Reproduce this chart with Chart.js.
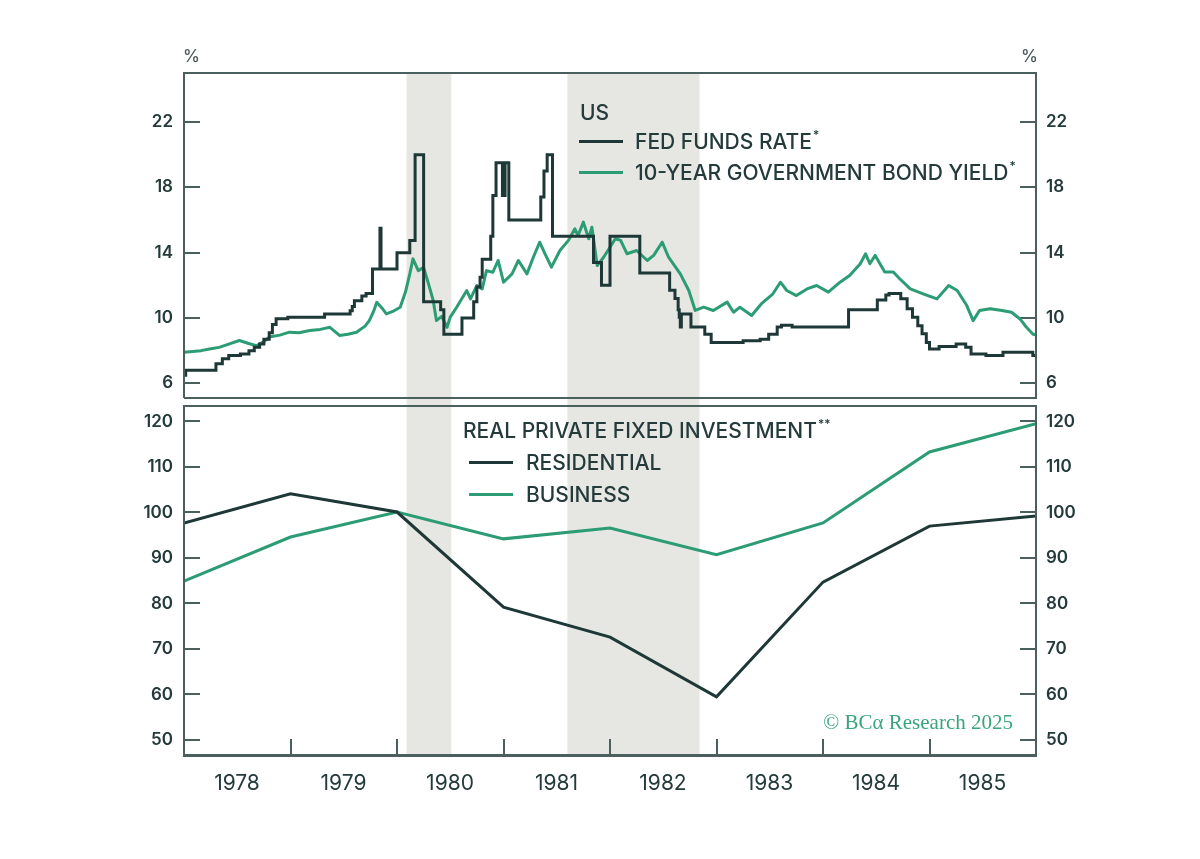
<!DOCTYPE html>
<html>
<head>
<meta charset="utf-8">
<script src="https://cdn.jsdelivr.net/npm/chart.js@4.4.1/dist/chart.umd.min.js"></script>
<style>
  html, body { margin: 0; padding: 0; background: #fff; }
  #wrap { position: relative; width: 1200px; height: 859px; }
  #ratesChart { position: absolute; left: 0; top: 0; }
  #investChart { position: absolute; left: 0; top: 402px; }
</style>
</head>
<body>
<div id="wrap">
  <canvas id="ratesChart" width="1200" height="402"></canvas>
  <canvas id="investChart" width="1200" height="457"></canvas>
</div>
<script>
// values (x = decimal year)
const fedTime = [1978.00, 1978.016, 1978.30, 1978.36, 1978.42, 1978.53, 1978.61, 1978.66, 1978.71, 1978.75,
  1978.80, 1978.83, 1978.865, 1978.975, 1979.32, 1979.56, 1979.58, 1979.60, 1979.67, 1979.71,
  1979.77, 1979.84, 1979.85, 1980.00, 1980.12, 1980.17, 1980.25, 1980.41, 1980.44, 1980.61,
  1980.72, 1980.75, 1980.78, 1980.80, 1980.88, 1980.90, 1980.93, 1980.99, 1980.995, 1981.00,
  1981.005, 1981.01, 1981.015, 1981.05, 1981.35, 1981.38, 1981.41, 1981.46, 1981.845, 1981.92,
  1982.00, 1982.28, 1982.56, 1982.61, 1982.64, 1982.65, 1982.66, 1982.67, 1982.76, 1982.89,
  1982.95, 1983.25, 1983.41, 1983.49, 1983.57, 1983.61, 1983.71, 1984.24, 1984.51, 1984.59,
  1984.62, 1984.73, 1984.79, 1984.84, 1984.89, 1984.93, 1984.97, 1985.00, 1985.09, 1985.25,
  1985.34, 1985.39, 1985.53, 1985.69, 1985.97, 1986.00];
const fedRate = [6.5, 6.8, 7.2, 7.5, 7.7, 7.8, 8.0, 8.2, 8.4, 8.7,
  9.1, 9.6, 9.95, 10.05, 10.25, 10.45, 10.7, 11.05, 11.35, 11.5,
  13.0, 15.5, 13.0, 14.0, 14.75, 20.0, 11.0, 10.5, 9.0, 10.0,
  11.0, 11.9, 12.5, 13.6, 15.0, 17.5, 19.5, 17.5, 19.5, 17.5,
  19.5, 17.5, 19.5, 16.0, 17.4, 19.0, 20.0, 15.0, 13.4, 12.0,
  15.0, 12.75, 11.7, 11.2, 10.5, 10.05, 9.45, 10.25, 9.45, 9.0,
  8.5, 8.6, 8.7, 9.0, 9.45, 9.55, 9.45, 10.5, 11.1, 11.4,
  11.5, 11.17, 10.56, 10.05, 9.53, 9.03, 8.5, 8.1, 8.25, 8.4,
  8.2, 7.8, 7.7, 7.9, 7.7, 7.7];

const bondTime = [1978.00, 1978.08, 1978.16, 1978.24, 1978.33, 1978.42, 1978.52, 1978.60, 1978.68, 1978.75,
  1978.80, 1978.90, 1978.99, 1979.08, 1979.18, 1979.28, 1979.37, 1979.46, 1979.54, 1979.62,
  1979.70, 1979.74, 1979.78, 1979.81, 1979.86, 1979.90, 1979.96, 1980.03, 1980.08, 1980.12,
  1980.15, 1980.20, 1980.25, 1980.30, 1980.34, 1980.37, 1980.42, 1980.47,
  1980.50, 1980.56, 1980.655, 1980.69, 1980.75, 1980.80, 1980.84, 1980.90, 1980.95, 1981.00,
  1981.08, 1981.14, 1981.22, 1981.28, 1981.34, 1981.39, 1981.45, 1981.53, 1981.61, 1981.67,
  1981.70, 1981.75, 1981.80, 1981.83, 1981.88, 1981.94, 1981.98, 1982.05, 1982.10, 1982.16,
  1982.25, 1982.35, 1982.41, 1982.49, 1982.55, 1982.66, 1982.74,
  1982.80, 1982.88, 1982.97, 1983.10, 1983.16, 1983.22, 1983.33, 1983.42, 1983.53, 1983.60,
  1983.66, 1983.75, 1983.85, 1983.94, 1984.05, 1984.16, 1984.25, 1984.35, 1984.40, 1984.44,
  1984.49, 1984.58, 1984.66, 1984.72, 1984.82, 1984.94, 1985.07, 1985.18, 1985.26, 1985.35,
  1985.41, 1985.47, 1985.57, 1985.68, 1985.77, 1985.85, 1985.91, 1985.97, 1986.00];
const bondYield = [7.9, 7.95, 8.0, 8.1, 8.2, 8.4, 8.62, 8.45, 8.3, 8.55,
  8.83, 8.95, 9.13, 9.1, 9.23, 9.3, 9.43, 8.93, 9.0, 9.13,
  9.5, 9.84, 10.4, 10.96, 10.6, 10.25, 10.4, 10.66, 11.6, 12.7,
  13.62, 12.9, 13.1, 12.0, 11.07, 9.84, 10.1, 9.43,
  10.05, 10.66, 11.68, 11.17, 11.99, 11.78, 12.9, 12.8, 13.52, 12.19,
  12.7, 13.52, 12.7, 13.72, 14.64, 13.93, 13.11, 14.13, 14.75, 15.46,
  15.05, 15.87, 14.85, 15.56, 13.21, 13.72, 14.13, 14.85, 14.75, 13.93,
  14.13, 13.52, 13.83, 14.64, 13.72, 12.7, 11.68,
  10.46, 10.66, 10.46, 10.97, 10.35, 10.66, 10.15, 10.86, 11.48, 12.19,
  11.68, 11.37, 11.78, 11.99, 11.58, 12.19, 12.6, 13.32, 13.93, 13.32,
  13.83, 12.81, 12.81, 12.4, 11.78, 11.48, 11.17, 11.99, 11.68, 10.76,
  9.84, 10.46, 10.56, 10.46, 10.35, 9.94, 9.43, 9.02, 8.95];

const invYears = [1978, 1979, 1980, 1981, 1982, 1983, 1984, 1985, 1986];
const residential = [97.7, 104.1, 100.1, 79.2, 72.6, 59.5, 84.7, 97.0, 99.2];
const business = [84.9, 94.6, 100.1, 94.2, 96.6, 90.7, 97.7, 113.3, 119.5];

const recessionStart = [1980.09, 1981.60];
const recessionEnd = [1980.51, 1982.84];

const yearTicks = [1978, 1979, 1980, 1981, 1982, 1983, 1984, 1985, 1986];
const rateTicks = [6, 10, 14, 18, 22];
const investTicks = [50, 60, 70, 80, 90, 100, 110, 120];

const DARK = '#1d3836';
const GREEN = '#2b9c73';
const FRAME = '#4c5f5f';
const SHADE = '#e6e6e2';
const TEXT = '#253b3b';
const FONT = 'Inter, Lato, sans-serif';

function pairs(xs, ys) {
  return xs.map((x, i) => ({ x: x, y: ys[i] }));
}

function xAxis(show) {
  const axis = {
    type: 'linear', min: 1978, max: 1986, display: show,
    afterBuildTicks: s => { s.ticks = yearTicks.map(v => ({ value: v })); },
    grid: { drawOnChartArea: false, drawTicks: true, tickLength: -16, color: FRAME, lineWidth: 2 },
    border: { display: true, color: FRAME, width: 3 },
    ticks: {
      labelOffset: 53, padding: 32, maxRotation: 0, autoSkip: false, color: TEXT,
      font: { family: FONT, size: 21 },
      callback: v => v < 1986 ? String(v) : ''
    }
  };
  if (show) axis.afterFit = s => { s.height = 104; s.paddingLeft = 0; s.paddingRight = 0; };
  return axis;
}

function yAxis(pos, min, max, tickVals, width) {
  return {
    type: 'linear', position: pos, min: min, max: max,
    afterBuildTicks: s => { s.ticks = tickVals.map(v => ({ value: v })); },
    afterFit: s => { s.width = width; s.paddingTop = 0; s.paddingBottom = 0; },
    grid: { drawOnChartArea: false, tickLength: -16, color: FRAME, lineWidth: 2 },
    border: { display: false },
    ticks: { padding: pos === 'left' ? 27 : 26, color: TEXT, font: { family: FONT, size: 17, weight: '600' } }
  };
}

// recession bars, drawn first so that ticks sit on top
function shadePlugin(fromTop) {
  return {
    id: 'shade',
    beforeDraw(chart) {
      const { ctx, chartArea, scales } = chart;
      const y0 = fromTop ? chartArea.top : 0;
      const y1 = fromTop ? chart.height : chartArea.bottom;
      ctx.save();
      ctx.fillStyle = SHADE;
      recessionStart.forEach((s, i) => {
        const a = scales.x.getPixelForValue(s);
        const b = scales.x.getPixelForValue(recessionEnd[i]);
        ctx.fillRect(a, y0, b - a, y1 - y0);
      });
      ctx.restore();
    }
  };
}

function framePlugin(withBottom) {
  return {
    id: 'frame',
    afterDraw(chart) {
      const { ctx, chartArea: a } = chart;
      ctx.save();
      ctx.strokeStyle = FRAME;
      ctx.lineWidth = 2;
      ctx.beginPath();
      ctx.moveTo(a.left, a.bottom);
      ctx.lineTo(a.left, a.top);
      ctx.lineTo(a.right, a.top);
      ctx.lineTo(a.right, a.bottom);
      if (withBottom) ctx.lineTo(a.left, a.bottom);
      ctx.stroke();
      ctx.restore();
    }
  };
}

function textWithStar(ctx, text, star, x, y) {
  ctx.fillText(text, x, y);
  if (!star) return;
  const w = ctx.measureText(text).width;
  const f = ctx.font;
  ctx.font = '500 12px ' + FONT;
  ctx.fillText(star, x + w + 1, y - 10);
  ctx.font = f;
}

function legendPlugin(title, titleStar, items) {
  return {
    id: 'legendText',
    afterDraw(chart) {
      const ctx = chart.ctx;
      ctx.save();
      ctx.font = '500 21px ' + FONT;
      ctx.fillStyle = TEXT;
      ctx.textBaseline = 'alphabetic';
      textWithStar(ctx, title.text, titleStar, title.x, title.y);
      items.forEach(it => {
        ctx.strokeStyle = it.color;
        ctx.lineWidth = 3;
        ctx.beginPath();
        ctx.moveTo(it.lx, it.ly);
        ctx.lineTo(it.lx + 44, it.ly);
        ctx.stroke();
        ctx.fillStyle = TEXT;
        textWithStar(ctx, it.text, it.star, it.tx, it.ly + 7.5);
      });
      ctx.restore();
    }
  };
}

const pctPlugin = {
  id: 'pct',
  afterDraw(chart) {
    const ctx = chart.ctx;
    ctx.save();
    ctx.font = '500 17px ' + FONT;
    ctx.fillStyle = '#4b5a5a';
    ctx.textAlign = 'left';
    ctx.fillText('%', 183, 62);
    ctx.textAlign = 'right';
    ctx.fillText('%', 1038, 62);
    ctx.restore();
  }
};

const creditPlugin = {
  id: 'credit',
  afterDraw(chart) {
    const ctx = chart.ctx;
    ctx.save();
    ctx.font = '21px "Liberation Serif", "DejaVu Serif", serif';
    ctx.fillStyle = '#3aa57c';
    ctx.textAlign = 'right';
    ctx.fillText('\u00a9 BC\u03b1 Research 2025', 1013, 327);
    ctx.restore();
  }
};

const ratesChart = new Chart(document.getElementById('ratesChart'), {
  type: 'line',
  data: {
    datasets: [{
      label: 'FED FUNDS RATE',
      data: pairs(fedTime, fedRate),
      borderColor: DARK, borderWidth: 3, stepped: true, pointRadius: 0
    }, {
      label: '10-YEAR GOVERNMENT BOND YIELD',
      data: pairs(bondTime, bondYield),
      borderColor: GREEN, borderWidth: 3, pointRadius: 0, borderJoinStyle: 'round'
    }]
  },
  options: {
    responsive: false, animation: false,
    layout: { padding: { top: 73, bottom: 4, left: 0, right: 0 } },
    plugins: { legend: { display: false }, tooltip: { enabled: false } },
    scales: {
      x: xAxis(false),
      y: yAxis('left', 5.1, 25, rateTicks, 184),
      y2: yAxis('right', 5.1, 25, rateTicks, 164)
    }
  },
  plugins: [shadePlugin(true), framePlugin(true), pctPlugin,
    legendPlugin({ text: 'US', x: 580, y: 120 }, '', [
      { text: 'FED FUNDS RATE', star: '*', color: DARK, lx: 579, ly: 141.5, tx: 635 },
      { text: '10-YEAR GOVERNMENT BOND YIELD', star: '*', color: GREEN, lx: 579, ly: 172.5, tx: 635 }
    ])]
});

const investChart = new Chart(document.getElementById('investChart'), {
  type: 'line',
  data: {
    labels: invYears,
    datasets: [{
      label: 'RESIDENTIAL',
      data: pairs(invYears, residential),
      borderColor: DARK, borderWidth: 3, pointRadius: 0
    }, {
      label: 'BUSINESS',
      data: pairs(invYears, business),
      borderColor: GREEN, borderWidth: 3, pointRadius: 0
    }]
  },
  options: {
    responsive: false, animation: false,
    layout: { padding: { top: 4, bottom: 0, left: 0, right: 0 } },
    plugins: { legend: { display: false }, tooltip: { enabled: false } },
    scales: {
      x: xAxis(true),
      y: yAxis('left', 46.7, 123.4, investTicks, 184),
      y2: yAxis('right', 46.7, 123.4, investTicks, 164)
    }
  },
  plugins: [shadePlugin(false), framePlugin(false), creditPlugin,
    legendPlugin({ text: 'REAL PRIVATE FIXED INVESTMENT', x: 463, y: 36 }, '**', [
      { text: 'RESIDENTIAL', color: DARK, lx: 469, ly: 60.5, tx: 526 },
      { text: 'BUSINESS', color: GREEN, lx: 469, ly: 92.5, tx: 526 }
    ])]
});
</script>
</body>
</html>
